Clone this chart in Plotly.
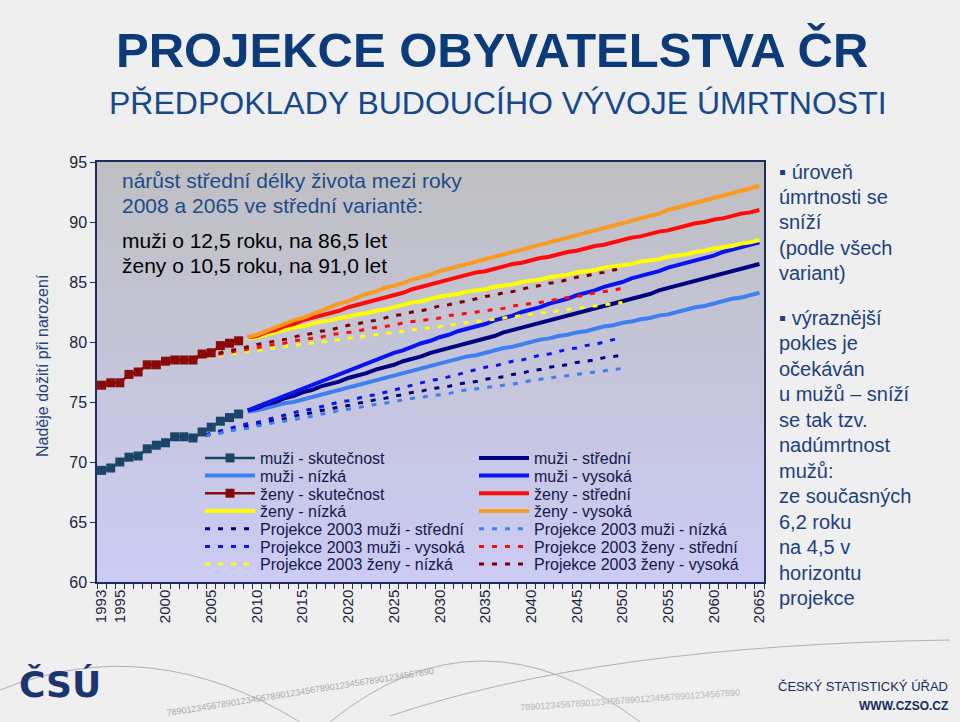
import plotly.graph_objects as go

# ---------------- data ----------------
years_actual = list(range(1993, 2009))
muzi_skutecnost = [69.3, 69.5, 70.0, 70.4, 70.5, 71.1, 71.4, 71.6, 72.1, 72.1, 72.0, 72.5, 72.9, 73.4, 73.7, 74.0]
zeny_skutecnost = [76.4, 76.6, 76.6, 77.3, 77.5, 78.1, 78.1, 78.4, 78.5, 78.5, 78.5, 79.0, 79.1, 79.7, 79.9, 80.1]

years_proj = list(range(2009, 2066))
muzi_nizka = [74.2, 74.3, 74.5, 74.7, 74.9, 75.0, 75.2, 75.4, 75.6, 75.8, 76.0, 76.2, 76.4, 76.6, 76.8, 77.0,
              77.2, 77.4, 77.6, 77.8, 78.0, 78.2, 78.4, 78.6, 78.8, 78.9, 79.1, 79.3, 79.5, 79.6, 79.8, 80.0,
              80.2, 80.3, 80.5, 80.6, 80.8, 80.9, 81.1, 81.3, 81.4, 81.6, 81.7, 81.9, 82.0, 82.2, 82.3, 82.5,
              82.7, 82.9, 83.0, 83.2, 83.4, 83.6, 83.7, 83.9, 84.1]
muzi_stredni = [74.3, 74.5, 74.8, 75.0, 75.3, 75.5, 75.8, 76.0, 76.3, 76.5, 76.7, 77.0, 77.2, 77.4, 77.7, 77.9,
                78.1, 78.4, 78.6, 78.8, 79.1, 79.3, 79.5, 79.7, 79.9, 80.1, 80.3, 80.5, 80.8, 81.0, 81.2, 81.4,
                81.6, 81.8, 82.0, 82.2, 82.4, 82.6, 82.8, 83.0, 83.2, 83.4, 83.6, 83.8, 84.0, 84.3, 84.5, 84.7,
                84.9, 85.1, 85.3, 85.5, 85.7, 85.9, 86.1, 86.3, 86.5]
muzi_vysoka = [74.3, 74.6, 74.9, 75.2, 75.5, 75.8, 76.1, 76.4, 76.7, 77.0, 77.3, 77.6, 77.9, 78.2, 78.5, 78.8,
               79.1, 79.3, 79.6, 79.9, 80.1, 80.4, 80.6, 80.9, 81.1, 81.3, 81.5, 81.8, 82.0, 82.2, 82.5, 82.7,
               82.9, 83.2, 83.4, 83.6, 83.9, 84.1, 84.3, 84.6, 84.8, 85.0, 85.3, 85.5, 85.7, 85.9, 86.2, 86.4,
               86.6, 86.8, 87.0, 87.2, 87.5, 87.7, 87.9, 88.1, 88.3]
zeny_nizka = [80.3, 80.4, 80.6, 80.8, 81.0, 81.2, 81.3, 81.5, 81.7, 81.8, 82.0, 82.1, 82.3, 82.4, 82.6, 82.7,
              82.9, 83.1, 83.3, 83.4, 83.6, 83.8, 83.9, 84.0, 84.2, 84.3, 84.4, 84.6, 84.7, 84.8, 85.0, 85.1,
              85.2, 85.4, 85.5, 85.6, 85.8, 85.9, 86.0, 86.2, 86.3, 86.4, 86.5, 86.7, 86.8, 86.9, 87.1, 87.2,
              87.3, 87.5, 87.6, 87.8, 87.9, 88.0, 88.2, 88.3, 88.5]
zeny_stredni = [80.4, 80.5, 80.8, 81.0, 81.3, 81.5, 81.8, 82.0, 82.2, 82.4, 82.6, 82.9, 83.1, 83.3, 83.5, 83.7,
                83.9, 84.1, 84.4, 84.6, 84.8, 85.0, 85.2, 85.4, 85.6, 85.8, 85.9, 86.1, 86.3, 86.5, 86.6, 86.8,
                87.0, 87.1, 87.3, 87.5, 87.6, 87.8, 88.0, 88.1, 88.3, 88.5, 88.7, 88.8, 89.0, 89.2, 89.3, 89.5,
                89.7, 89.9, 90.0, 90.2, 90.3, 90.5, 90.7, 90.8, 91.0]
zeny_vysoka = [80.4, 80.6, 80.9, 81.2, 81.5, 81.8, 82.0, 82.3, 82.6, 82.9, 83.2, 83.4, 83.7, 84.0, 84.2, 84.5,
               84.7, 84.9, 85.2, 85.4, 85.6, 85.9, 86.1, 86.3, 86.5, 86.7, 86.9, 87.1, 87.3, 87.5, 87.7, 87.9,
               88.1, 88.3, 88.5, 88.7, 88.9, 89.1, 89.3, 89.5, 89.7, 89.9, 90.1, 90.3, 90.5, 90.7, 91.0, 91.2,
               91.4, 91.6, 91.8, 92.0, 92.2, 92.4, 92.6, 92.8, 93.0]

years_p2003 = list(range(2003, 2051))
p2003_muzi_stredni = [72.0, 72.1, 72.3, 72.5, 72.6, 72.8, 73.0, 73.1, 73.3, 73.5, 73.6, 73.8, 74.0, 74.1, 74.3, 74.4,
                      74.6, 74.7, 74.9, 75.0, 75.2, 75.3, 75.5, 75.6, 75.8, 75.9, 76.1, 76.2, 76.3, 76.5, 76.6, 76.7,
                      76.9, 77.0, 77.1, 77.3, 77.4, 77.6, 77.7, 77.9, 78.0, 78.1, 78.3, 78.4, 78.5, 78.7, 78.8, 78.9]
p2003_muzi_vysoka = [72.0, 72.2, 72.4, 72.6, 72.8, 73.0, 73.2, 73.3, 73.5, 73.7, 73.9, 74.1, 74.3, 74.4, 74.6, 74.8,
                     75.0, 75.1, 75.3, 75.5, 75.6, 75.8, 76.0, 76.2, 76.4, 76.6, 76.8, 76.9, 77.1, 77.3, 77.5, 77.7,
                     77.9, 78.0, 78.2, 78.4, 78.5, 78.7, 78.9, 79.0, 79.2, 79.4, 79.5, 79.7, 79.8, 80.0, 80.2, 80.3]
p2003_muzi_nizka = [72.0, 72.1, 72.3, 72.4, 72.6, 72.7, 72.8, 73.0, 73.1, 73.3, 73.4, 73.5, 73.7, 73.8, 74.0, 74.1,
                    74.3, 74.4, 74.5, 74.7, 74.8, 74.9, 75.0, 75.2, 75.3, 75.4, 75.5, 75.6, 75.7, 75.9, 76.0, 76.1,
                    76.2, 76.3, 76.4, 76.5, 76.6, 76.8, 76.9, 77.0, 77.1, 77.2, 77.3, 77.4, 77.5, 77.6, 77.7, 77.8]
p2003_zeny_nizka = [78.6, 78.7, 78.8, 78.9, 79.0, 79.1, 79.2, 79.3, 79.4, 79.5, 79.6, 79.7, 79.8, 79.9, 80.0, 80.1,
                    80.2, 80.3, 80.4, 80.5, 80.6, 80.7, 80.8, 80.9, 81.0, 81.1, 81.2, 81.3, 81.4, 81.5, 81.6, 81.7,
                    81.8, 81.9, 82.0, 82.1, 82.2, 82.3, 82.4, 82.5, 82.6, 82.7, 82.8, 82.9, 83.0, 83.1, 83.2, 83.3]
p2003_zeny_stredni = [78.6, 78.7, 78.9, 79.0, 79.1, 79.3, 79.4, 79.5, 79.7, 79.8, 79.9, 80.1, 80.2, 80.3, 80.4, 80.6,
                      80.7, 80.8, 80.9, 81.1, 81.2, 81.3, 81.4, 81.6, 81.7, 81.8, 81.9, 82.0, 82.2, 82.3, 82.4, 82.5,
                      82.6, 82.7, 82.8, 83.0, 83.1, 83.2, 83.3, 83.4, 83.6, 83.7, 83.8, 83.9, 84.1, 84.2, 84.3, 84.5]
p2003_zeny_vysoka = [78.7, 78.8, 79.0, 79.1, 79.3, 79.4, 79.6, 79.8, 79.9, 80.1, 80.2, 80.4, 80.6, 80.7, 80.9, 81.0,
                     81.2, 81.4, 81.5, 81.7, 81.8, 82.0, 82.2, 82.3, 82.5, 82.6, 82.8, 83.0, 83.1, 83.3, 83.4, 83.6,
                     83.8, 83.9, 84.1, 84.2, 84.4, 84.6, 84.7, 84.9, 85.0, 85.2, 85.4, 85.5, 85.7, 85.8, 86.0, 86.1]

x_tick_vals = [1993, 1995, 2000, 2005, 2010, 2015, 2020, 2025, 2030, 2035, 2040, 2045, 2050, 2055, 2060, 2065]
y_tick_vals = [60, 65, 70, 75, 80, 85, 90, 95]

# ---------------- layout helpers (pixel -> paper) ----------------
W, H = 960, 722
L, R, T, B = 97, 764, 162, 582


def px(x):
    return (x - L) / (R - L)


def py(y):
    return (B - y) / (B - T)


FONT = "Liberation Sans, Arial, sans-serif"
NAVY = "#0d3a78"
TXT_BLUE = "#1d3f80"

fig = go.Figure()

# (name, x, y, color, width, dash, marker?, legend column, legend row)
series = [
    ("muži - nízká", years_proj, muzi_nizka, "#3f7fef", 4, "solid", False, 0, 1),
    ("muži - střední", years_proj, muzi_stredni, "#000080", 4, "solid", False, 1, 0),
    ("muži - vysoká", years_proj, muzi_vysoka, "#0a14f0", 4, "solid", False, 1, 1),
    ("ženy - nízká", years_proj, zeny_nizka, "#ffff00", 4, "solid", False, 0, 3),
    ("ženy - střední", years_proj, zeny_stredni, "#ff0a0a", 4, "solid", False, 1, 2),
    ("ženy - vysoká", years_proj, zeny_vysoka, "#fa9a1e", 4, "solid", False, 1, 3),
    ("Projekce 2003 muži - střední", years_p2003, p2003_muzi_stredni, "#000080", 3, "5px,8px", False, 0, 4),
    ("Projekce 2003 muži - vysoká", years_p2003, p2003_muzi_vysoka, "#0a14f0", 3, "5px,8px", False, 0, 5),
    ("Projekce 2003 muži - nízká", years_p2003, p2003_muzi_nizka, "#3f7fef", 3, "5px,8px", False, 1, 4),
    ("Projekce 2003 ženy - nízká", years_p2003, p2003_zeny_nizka, "#ffff00", 3, "5px,8px", False, 0, 6),
    ("Projekce 2003 ženy - střední", years_p2003, p2003_zeny_stredni, "#ff0a0a", 3, "5px,8px", False, 1, 5),
    ("Projekce 2003 ženy - vysoká", years_p2003, p2003_zeny_vysoka, "#800000", 3, "5px,8px", False, 1, 6),
    ("muži - skutečnost", years_actual, muzi_skutecnost, "#1c4468", 2.5, "solid", True, 0, 0),
    ("ženy - skutečnost", years_actual, zeny_skutecnost, "#8a0a0a", 2.5, "solid", True, 0, 2),
]

legend_layouts = {}
LEG_X = [200, 474]
for i, (name, xs, ys, col, wdt, dash, mk, lc, lr) in enumerate(series):
    key = "legend" if i == 0 else f"legend{i + 1}"
    fig.add_trace(go.Scatter(
        x=xs, y=ys, name=name,
        mode="lines+markers" if mk else "lines",
        line=dict(color=col, width=wdt, dash=dash),
        marker=dict(symbol="square", size=9, color=col) if mk else None,
        legend=key, hoverinfo="x+y+name",
    ))
    legend_layouts[key] = dict(
        x=px(LEG_X[lc]), y=py(458 + lr * 17.7), xanchor="left", yanchor="middle",
        bgcolor="rgba(0,0,0,0)", borderwidth=0, itemwidth=50,
        font=dict(family=FONT, size=16, color="#14184a"),
    )

# plot area gradient (grey -> lavender)
shapes = []
N = 60
c0 = (191, 191, 193)
c1 = (203, 203, 245)
for k in range(N):
    t = (k + 0.5) / N
    c = tuple(int(round(c0[j] + (c1[j] - c0[j]) * t)) for j in range(3))
    shapes.append(dict(type="rect", xref="paper", yref="paper", x0=0, x1=1,
                       y0=1 - (k + 1) / N, y1=1 - k / N + 0.002,
                       fillcolor=f"rgb{c}", line=dict(width=0), layer="below"))

annotations = []
# titles
annotations.append(dict(text="<b>PROJEKCE OBYVATELSTVA ČR</b>", x=px(492), y=py(50), xref="paper", yref="paper",
                        showarrow=False, xanchor="center", yanchor="middle",
                        font=dict(family=FONT, size=49, color=NAVY)))
annotations.append(dict(text="PŘEDPOKLADY BUDOUCÍHO VÝVOJE ÚMRTNOSTI", x=px(498), y=py(103), xref="paper",
                        yref="paper", showarrow=False, xanchor="center", yanchor="middle",
                        font=dict(family=FONT, size=32, color="#17488a")))
# y axis title
annotations.append(dict(text="Naděje dožití při narození", x=px(42), y=py(366), xref="paper", yref="paper",
                        showarrow=False, textangle=-90, xanchor="center", yanchor="middle",
                        font=dict(family=FONT, size=16, color="#1f4480")))
# in-plot notes
for txt, yy, colr in [("nárůst střední délky života mezi roky", 181, "#1f4a88"),
                      ("2008 a 2065 ve střední variantě:", 205, "#1f4a88"),
                      ("muži o 12,5 roku, na 86,5 let", 240, "#000000"),
                      ("ženy o 10,5 roku, na 91,0 let", 265, "#000000")]:
    annotations.append(dict(text=txt, x=px(120), y=py(yy), xref="paper", yref="paper", showarrow=False,
                            xanchor="left", yanchor="middle", font=dict(family=FONT, size=21, color=colr)))
# right-hand text
block1 = ["▪ úroveň", "úmrtnosti se", "sníží", "(podle všech", "variant)"]
block2 = ["▪ výraznější", "pokles je", "očekáván", "u mužů – sníží", "se tak tzv.", "nadúmrtnost",
          "mužů:", "ze současných", "6,2 roku", "na 4,5 v", "horizontu", "projekce"]
for i, txt in enumerate(block1):
    annotations.append(dict(text=txt, x=px(777), y=py(172 + i * 25.2), xref="paper", yref="paper",
                            showarrow=False, xanchor="left", yanchor="middle",
                            font=dict(family=FONT, size=20, color=TXT_BLUE)))
for i, txt in enumerate(block2):
    annotations.append(dict(text=txt, x=px(777), y=py(318 + i * 25.45), xref="paper", yref="paper",
                            showarrow=False, xanchor="left", yanchor="middle",
                            font=dict(family=FONT, size=20, color=TXT_BLUE)))
# footer
annotations.append(dict(text="ČESKÝ STATISTICKÝ ÚŘAD", x=px(950), y=py(686), xref="paper", yref="paper",
                        showarrow=False, xanchor="right", yanchor="middle",
                        font=dict(family=FONT, size=13, color="#1a2a5c")))
annotations.append(dict(text="<b>WWW.CZSO.CZ</b>", x=px(950), y=py(706), xref="paper", yref="paper",
                        showarrow=False, xanchor="right", yanchor="middle",
                        font=dict(family=FONT, size=12, color="#1a2a5c")))
annotations.append(dict(text="<b>ČSÚ</b>", x=px(60), y=py(684), xref="paper", yref="paper",
                        showarrow=False, xanchor="center", yanchor="middle",
                        font=dict(family="DejaVu Sans, sans-serif", size=36, color="#1c3470")))
digits = "789012345678901234567890123456789012345678901234567890"
annotations.append(dict(text=digits, x=px(300), y=py(692), xref="paper", yref="paper", showarrow=False,
                        textangle=-9, xanchor="center", yanchor="middle",
                        font=dict(family=FONT, size=9, color="#a8a8b0")))
annotations.append(dict(text=digits[:44], x=px(630), y=py(700), xref="paper", yref="paper", showarrow=False,
                        textangle=-4, xanchor="center", yanchor="middle",
                        font=dict(family=FONT, size=9, color="#b8b8c0")))

# faint decorative arcs in the footer
for path in [
    f"M {px(0)},{py(690)} Q {px(150)},{py(630)} {px(300)},{py(722)}",
    f"M {px(330)},{py(722)} Q {px(480)},{py(600)} {px(640)},{py(722)}",
    f"M {px(390)},{py(716)} Q {px(600)},{py(645)} {px(950)},{py(640)}",
]:
    shapes.append(dict(type="path", xref="paper", yref="paper", path=path,
                       line=dict(color="#b0b0b8", width=1), layer="below"))

fig.update_layout(
    width=W, height=H,
    margin=dict(l=L, r=W - R, t=T, b=H - B),
    paper_bgcolor="#efefef", plot_bgcolor="rgba(0,0,0,0)",
    font=dict(family=FONT),
    showlegend=True,
    shapes=shapes, annotations=annotations,
    **legend_layouts,
)

fig.update_xaxes(
    range=[1992.5, 2065.5], tickmode="array", tickvals=x_tick_vals,
    ticktext=[str(v) for v in x_tick_vals], tickangle=-90,
    ticks="", showgrid=False, zeroline=False,
    showline=True, linecolor="#1f2d5c", linewidth=1.5, mirror=True,
    tickfont=dict(family=FONT, size=15, color="#1e2440"),
    minor=dict(tickmode="linear", tick0=1992.5, dtick=1, ticks="outside", ticklen=5,
               tickcolor="#1f2d5c", tickwidth=1, showgrid=False),
)
fig.update_yaxes(
    range=[60, 95], tickmode="array", tickvals=y_tick_vals, ticks="outside", ticklen=5,
    tickcolor="#1f2d5c", showgrid=False, zeroline=False,
    showline=True, linecolor="#1f2d5c", linewidth=1.5, mirror=True,
    tickfont=dict(family=FONT, size=16, color="#1e2440"),
)

fig.write_html(
    "out.html",
    config={"displayModeBar": False},
    post_script="document.body.style.margin='0';document.body.style.overflow='hidden';",
)
